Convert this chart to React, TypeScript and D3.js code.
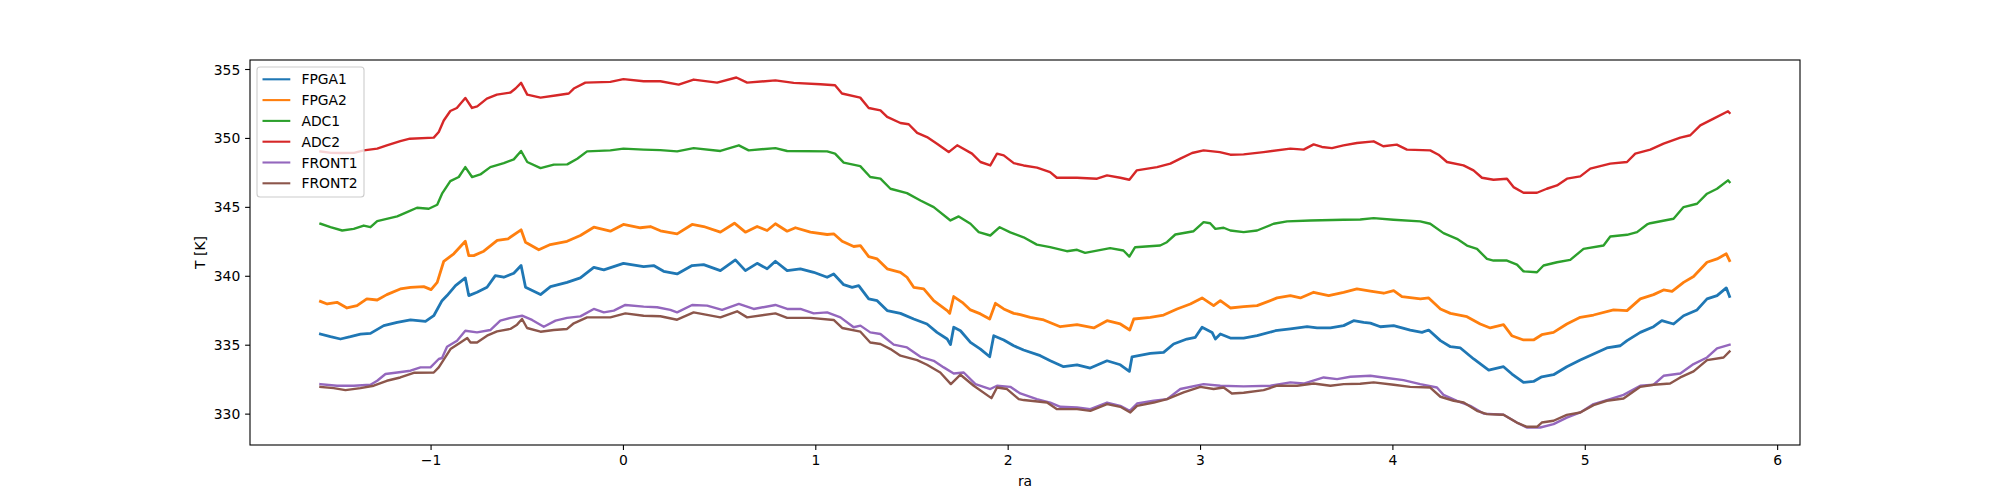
import React from "react";
import * as d3 from "d3";

type Pt = [number, number];

const FPGA1: Pt[] = [[-1.575,335.81],[-1.523,335.62],[-1.471,335.45],[-1.419,335.62],[-1.367,335.81],[-1.315,335.86],[-1.246,336.42],[-1.176,336.66],[-1.107,336.83],[-1.029,336.73],[-0.986,337.14],[-0.943,338.23],[-0.917,338.6],[-0.873,339.32],[-0.822,339.88],[-0.804,338.6],[-0.761,338.84],[-0.709,339.2],[-0.666,340.05],[-0.622,339.93],[-0.57,340.22],[-0.532,340.78],[-0.509,339.2],[-0.431,338.67],[-0.379,339.25],[-0.293,339.56],[-0.224,339.88],[-0.154,340.65],[-0.102,340.47],[0.0,340.94],[0.105,340.7],[0.157,340.78],[0.209,340.36],[0.279,340.17],[0.357,340.78],[0.417,340.85],[0.504,340.41],[0.582,341.19],[0.634,340.41],[0.695,340.94],[0.747,340.54],[0.79,341.09],[0.851,340.41],[0.92,340.54],[0.989,340.29],[1.059,339.93],[1.093,340.17],[1.145,339.39],[1.189,339.2],[1.223,339.32],[1.275,338.36],[1.319,338.23],[1.371,337.51],[1.44,337.31],[1.509,336.9],[1.578,336.54],[1.63,335.93],[1.683,335.45],[1.7,335.04],[1.717,336.3],[1.752,336.05],[1.804,335.2],[1.856,334.72],[1.904,334.16],[1.925,335.69],[1.977,335.38],[2.029,334.96],[2.08,334.65],[2.167,334.24],[2.219,333.87],[2.288,333.44],[2.358,333.58],[2.427,333.34],[2.514,333.87],[2.583,333.58],[2.63,333.1],[2.644,334.16],[2.739,334.4],[2.808,334.48],[2.86,335.09],[2.929,335.45],[2.973,335.57],[3.008,336.3],[3.06,335.93],[3.077,335.45],[3.103,335.81],[3.155,335.52],[3.224,335.52],[3.294,335.69],[3.389,336.05],[3.467,336.18],[3.554,336.34],[3.606,336.25],[3.675,336.25],[3.744,336.42],[3.796,336.78],[3.848,336.66],[3.883,336.6],[3.935,336.34],[4.004,336.42],[4.09,336.1],[4.151,335.93],[4.186,336.1],[4.247,335.33],[4.299,334.89],[4.351,334.8],[4.42,334.0],[4.498,333.2],[4.575,333.44],[4.619,332.91],[4.679,332.3],[4.731,332.37],[4.774,332.71],[4.835,332.86],[4.904,333.44],[4.974,333.92],[5.043,334.36],[5.112,334.8],[5.182,334.96],[5.217,335.33],[5.286,335.93],[5.355,336.34],[5.398,336.78],[5.459,336.54],[5.511,337.14],[5.581,337.56],[5.633,338.36],[5.685,338.6],[5.733,339.16],[5.75,338.53]];

const FPGA2: Pt[] = [[-1.575,338.18],[-1.54,337.99],[-1.489,338.11],[-1.437,337.7],[-1.385,337.87],[-1.334,338.36],[-1.28,338.28],[-1.23,338.67],[-1.16,339.08],[-1.107,339.2],[-1.038,339.25],[-1.0,339.03],[-0.968,339.56],[-0.934,341.09],[-0.882,341.63],[-0.822,342.54],[-0.804,341.5],[-0.778,341.5],[-0.726,341.82],[-0.656,342.6],[-0.6,342.72],[-0.532,343.37],[-0.509,342.47],[-0.44,341.92],[-0.38,342.3],[-0.293,342.54],[-0.224,342.96],[-0.154,343.56],[-0.068,343.27],[0.0,343.76],[0.088,343.52],[0.14,343.61],[0.192,343.3],[0.279,343.08],[0.357,343.76],[0.417,343.61],[0.504,343.2],[0.577,343.85],[0.634,343.2],[0.695,343.61],[0.747,343.32],[0.79,343.81],[0.851,343.27],[0.894,343.52],[0.972,343.2],[1.059,343.03],[1.093,343.08],[1.137,342.54],[1.197,342.16],[1.232,342.23],[1.275,341.43],[1.319,341.26],[1.371,340.54],[1.44,340.29],[1.474,339.93],[1.509,339.2],[1.561,339.08],[1.613,338.23],[1.683,337.51],[1.696,337.31],[1.717,338.53],[1.761,338.11],[1.804,337.56],[1.856,337.27],[1.904,336.9],[1.934,338.04],[1.977,337.63],[2.029,337.31],[2.063,337.22],[2.115,337.02],[2.185,336.83],[2.271,336.34],[2.358,336.49],[2.445,336.25],[2.514,336.78],[2.583,336.54],[2.632,336.1],[2.653,336.9],[2.739,337.02],[2.808,337.19],[2.878,337.63],[2.947,337.99],[3.008,338.43],[3.068,337.87],[3.103,338.23],[3.155,337.7],[3.224,337.8],[3.294,337.87],[3.398,338.43],[3.467,338.6],[3.519,338.43],[3.588,338.84],[3.666,338.6],[3.744,338.84],[3.813,339.08],[3.883,338.93],[3.952,338.77],[4.004,338.96],[4.047,338.53],[4.143,338.36],[4.186,338.43],[4.247,337.63],[4.299,337.31],[4.385,337.07],[4.454,336.54],[4.506,336.25],[4.575,336.49],[4.618,335.69],[4.679,335.38],[4.731,335.38],[4.774,335.76],[4.835,335.93],[4.904,336.54],[4.974,337.02],[5.043,337.19],[5.147,337.56],[5.217,337.51],[5.286,338.36],[5.355,338.67],[5.407,339.01],[5.451,338.91],[5.511,339.56],[5.563,339.98],[5.633,341.02],[5.685,341.26],[5.733,341.63],[5.75,341.14]];

const ADC1: Pt[] = [[-1.575,343.81],[-1.523,343.56],[-1.462,343.32],[-1.402,343.44],[-1.35,343.68],[-1.315,343.56],[-1.28,344.0],[-1.176,344.34],[-1.125,344.65],[-1.073,344.97],[-1.012,344.9],[-0.968,345.19],[-0.943,345.99],[-0.9,346.9],[-0.856,347.2],[-0.822,347.92],[-0.787,347.2],[-0.744,347.39],[-0.692,347.92],[-0.622,348.21],[-0.57,348.48],[-0.532,349.09],[-0.5,348.29],[-0.431,347.85],[-0.362,348.1],[-0.292,348.12],[-0.24,348.53],[-0.189,349.06],[-0.068,349.13],[0.0,349.26],[0.105,349.19],[0.192,349.15],[0.279,349.06],[0.365,349.3],[0.504,349.09],[0.6,349.5],[0.651,349.13],[0.79,349.3],[0.851,349.09],[1.059,349.06],[1.1,348.9],[1.145,348.24],[1.231,347.99],[1.283,347.2],[1.336,347.08],[1.388,346.35],[1.474,346.03],[1.544,345.5],[1.613,345.02],[1.7,344.05],[1.743,344.34],[1.804,343.81],[1.847,343.2],[1.907,342.96],[1.956,343.56],[2.011,343.18],[2.08,342.83],[2.149,342.3],[2.218,342.11],[2.305,341.82],[2.358,341.92],[2.4,341.7],[2.53,342.04],[2.599,341.87],[2.63,341.43],[2.66,342.11],[2.79,342.23],[2.825,342.47],[2.869,343.03],[2.964,343.27],[3.016,343.93],[3.05,343.85],[3.077,343.44],[3.12,343.52],[3.155,343.32],[3.224,343.2],[3.294,343.32],[3.38,343.81],[3.45,343.98],[3.571,344.05],[3.743,344.1],[3.83,344.12],[3.9,344.22],[4.003,344.1],[4.142,343.98],[4.194,343.81],[4.263,343.13],[4.333,342.72],[4.385,342.23],[4.437,341.99],[4.489,341.26],[4.523,341.14],[4.593,341.14],[4.645,340.85],[4.679,340.36],[4.749,340.29],[4.783,340.78],[4.853,341.02],[4.922,341.19],[4.991,341.99],[5.095,342.23],[5.13,342.89],[5.217,343.01],[5.269,343.2],[5.321,343.76],[5.338,343.85],[5.459,344.17],[5.511,345.02],[5.581,345.26],[5.633,345.99],[5.685,346.35],[5.742,346.96],[5.75,346.83]];

const ADC2: Pt[] = [[-1.575,349.06],[-1.52,348.95],[-1.47,348.94],[-1.4,348.95],[-1.35,349.13],[-1.28,349.26],[-1.23,349.5],[-1.16,349.81],[-1.11,349.98],[-0.986,350.06],[-0.96,350.47],[-0.934,351.3],[-0.9,351.99],[-0.866,352.21],[-0.822,352.94],[-0.787,352.21],[-0.76,352.33],[-0.71,352.89],[-0.658,353.18],[-0.587,353.33],[-0.561,353.62],[-0.532,354.03],[-0.5,353.18],[-0.431,352.96],[-0.345,353.13],[-0.284,353.26],[-0.258,353.62],[-0.198,354.05],[-0.068,354.1],[0.0,354.3],[0.105,354.15],[0.192,354.15],[0.287,353.9],[0.365,354.27],[0.487,354.05],[0.587,354.42],[0.643,354.05],[0.79,354.21],[0.885,354.03],[1.024,353.93],[1.1,353.86],[1.136,353.26],[1.231,352.96],[1.275,352.21],[1.336,352.04],[1.371,351.56],[1.44,351.12],[1.483,351.03],[1.527,350.4],[1.578,350.1],[1.63,349.62],[1.691,349.01],[1.735,349.5],[1.812,348.9],[1.856,348.29],[1.907,348.04],[1.942,348.9],[1.977,348.77],[2.029,348.21],[2.08,348.04],[2.15,347.88],[2.218,347.56],[2.253,347.15],[2.358,347.15],[2.462,347.08],[2.514,347.32],[2.583,347.15],[2.63,347.0],[2.668,347.68],[2.774,347.92],[2.843,348.17],[2.895,348.53],[2.956,348.94],[3.016,349.13],[3.1,349.01],[3.155,348.82],[3.224,348.84],[3.328,349.01],[3.467,349.26],[3.536,349.19],[3.588,349.57],[3.631,349.38],[3.683,349.3],[3.743,349.5],[3.813,349.67],[3.9,349.79],[3.95,349.43],[4.02,349.55],[4.073,349.19],[4.194,349.13],[4.237,348.82],[4.281,348.29],[4.367,348.04],[4.419,347.68],[4.463,347.15],[4.523,347.0],[4.593,347.08],[4.627,346.47],[4.679,346.06],[4.749,346.06],[4.8,346.35],[4.853,346.59],[4.905,347.08],[4.974,347.25],[5.026,347.81],[5.13,348.17],[5.217,348.29],[5.26,348.9],[5.338,349.19],[5.407,349.62],[5.494,350.06],[5.546,350.23],[5.598,350.95],[5.667,351.44],[5.742,351.97],[5.75,351.85]];

const FRONT1: Pt[] = [[-1.575,332.18],[-1.489,332.06],[-1.402,332.06],[-1.315,332.13],[-1.28,332.42],[-1.237,332.91],[-1.176,333.02],[-1.107,333.15],[-1.055,333.39],[-1.003,333.39],[-0.96,334.0],[-0.943,334.07],[-0.917,334.89],[-0.865,335.33],[-0.822,336.05],[-0.761,335.93],[-0.692,336.1],[-0.64,336.78],[-0.587,336.98],[-0.527,337.14],[-0.475,336.83],[-0.414,336.34],[-0.353,336.78],[-0.293,336.98],[-0.224,337.09],[-0.154,337.63],[-0.102,337.38],[-0.05,337.51],[0.01,337.92],[0.105,337.8],[0.175,337.75],[0.244,337.56],[0.279,337.38],[0.357,337.92],[0.435,337.87],[0.513,337.56],[0.6,337.99],[0.677,337.63],[0.79,337.92],[0.851,337.63],[0.92,337.63],[0.989,337.31],[1.059,337.38],[1.128,337.02],[1.197,336.3],[1.232,336.42],[1.283,335.93],[1.336,335.81],[1.405,335.04],[1.474,334.84],[1.544,334.16],[1.613,333.87],[1.665,333.39],[1.717,332.95],[1.769,333.02],[1.83,332.18],[1.907,331.82],[1.942,332.06],[2.011,331.98],[2.063,331.5],[2.149,331.09],[2.219,330.84],[2.271,330.53],[2.358,330.48],[2.427,330.36],[2.514,330.84],[2.583,330.6],[2.632,330.24],[2.67,330.77],[2.757,330.97],[2.826,331.09],[2.895,331.82],[3.016,332.18],[3.103,332.06],[3.224,332.01],[3.363,332.06],[3.467,332.3],[3.536,332.22],[3.64,332.66],[3.71,332.54],[3.779,332.71],[3.883,332.78],[3.969,332.62],[4.055,332.47],[4.142,332.18],[4.229,331.93],[4.263,331.4],[4.333,330.97],[4.402,330.6],[4.471,330.04],[4.575,329.95],[4.644,329.39],[4.696,329.03],[4.766,329.03],[4.835,329.27],[4.904,329.75],[4.974,330.12],[5.043,330.73],[5.112,331.02],[5.199,331.4],[5.286,332.06],[5.355,332.13],[5.407,332.78],[5.494,332.95],[5.563,333.63],[5.633,334.11],[5.685,334.77],[5.75,335.04]];

const FRONT2: Pt[] = [[-1.575,331.98],[-1.506,331.89],[-1.445,331.74],[-1.367,331.89],[-1.298,332.06],[-1.23,332.42],[-1.16,332.66],[-1.09,333.0],[-0.986,333.02],[-0.96,333.39],[-0.899,334.72],[-0.847,335.2],[-0.812,335.52],[-0.795,335.2],[-0.761,335.2],[-0.709,335.69],[-0.657,336.0],[-0.588,336.18],[-0.553,336.49],[-0.527,336.9],[-0.501,336.25],[-0.431,335.98],[-0.362,336.1],[-0.293,336.18],[-0.258,336.59],[-0.189,337.02],[-0.068,337.02],[0.01,337.31],[0.105,337.14],[0.192,337.1],[0.279,336.85],[0.365,337.38],[0.504,337.02],[0.591,337.46],[0.643,337.02],[0.79,337.31],[0.851,336.98],[0.972,336.98],[1.093,336.83],[1.137,336.25],[1.232,335.98],[1.283,335.2],[1.336,335.09],[1.388,334.72],[1.44,334.24],[1.527,333.92],[1.578,333.58],[1.647,333.02],[1.702,332.18],[1.752,332.86],[1.821,332.06],[1.913,331.16],[1.942,331.93],[1.994,331.82],[2.055,331.09],[2.08,331.02],[2.202,330.84],[2.254,330.36],[2.358,330.36],[2.427,330.24],[2.514,330.73],[2.583,330.53],[2.635,330.12],[2.67,330.6],[2.757,330.84],[2.826,331.09],[2.912,331.57],[2.999,331.98],[3.068,331.82],[3.12,331.93],[3.163,331.5],[3.224,331.55],[3.328,331.74],[3.398,332.06],[3.502,332.06],[3.588,332.22],[3.675,332.06],[3.744,332.18],[3.83,332.2],[3.9,332.3],[4.004,332.13],[4.09,331.98],[4.194,331.93],[4.247,331.26],[4.316,330.97],[4.368,330.84],[4.437,330.24],[4.489,330.0],[4.575,329.95],[4.644,329.39],[4.696,329.08],[4.749,329.08],[4.774,329.39],[4.835,329.52],[4.904,329.95],[4.974,330.12],[5.043,330.65],[5.112,330.97],[5.199,331.13],[5.286,331.98],[5.355,332.13],[5.441,332.22],[5.494,332.66],[5.563,333.1],[5.633,333.92],[5.719,334.11],[5.75,334.55]];

const SERIES_NAMES = ["FPGA1", "FPGA2", "ADC1", "ADC2", "FRONT1", "FRONT2"];
const SERIES_DATA = [FPGA1, FPGA2, ADC1, ADC2, FRONT1, FRONT2];
const COLORS = ["#1f77b4", "#ff7f0e", "#2ca02c", "#d62728", "#9467bd", "#8c564b"];
const X_TICKS = [-1, 0, 1, 2, 3, 4, 5, 6];
const Y_TICKS = [330, 335, 340, 345, 350, 355];
const X_LABEL = "ra";
const Y_LABEL = "T [K]";

const W = 2000, H = 500;
const M = { left: 250, right: 1800, top: 60, bottom: 445 };
const FONT = "DejaVu Sans, sans-serif";
const FS = 13.9;

export default function App() {
  const all = SERIES_DATA.flat();
  const [x0, x1] = d3.extent(all, (d) => d[0]) as [number, number];
  const [y0, y1] = d3.extent(all, (d) => d[1]) as [number, number];
  const xp = (x1 - x0) * 0.05, yp = (y1 - y0) * 0.05;
  const x = d3.scaleLinear().domain([x0 - xp, x1 + xp]).range([M.left, M.right]);
  const y = d3.scaleLinear().domain([y0 - yp, y1 + yp]).range([M.bottom, M.top]);
  const line = d3.line<Pt>().x((d) => x(d[0])).y((d) => y(d[1]));

  const lg = { x: 257, y: 67, w: 107, h: 130, row: 20.8 };

  return (
    <svg width={W} height={H} style={{ position: "absolute", left: 0, top: 0, background: "#fff" }} fontFamily={FONT}>
      <rect x={0} y={0} width={W} height={H} fill="#fff" />
      <defs>
        <clipPath id="plotclip">
          <rect x={M.left} y={M.top} width={M.right - M.left} height={M.bottom - M.top} />
        </clipPath>
      </defs>
      <g clipPath="url(#plotclip)">
        {SERIES_DATA.map((s, i) => (
          <path key={SERIES_NAMES[i]} d={line(s) || ""} fill="none" stroke={COLORS[i]}
            strokeWidth={i < 2 ? 2.8 : 2.4} strokeLinejoin="round" strokeLinecap="square" />
        ))}
      </g>
      <rect x={M.left} y={M.top} width={M.right - M.left} height={M.bottom - M.top} fill="none" stroke="#000" strokeWidth={1.1} />
      {X_TICKS.map((t) => (
        <g key={"xt" + t}>
          <line x1={x(t)} x2={x(t)} y1={M.bottom} y2={M.bottom + 4.9} stroke="#000" strokeWidth={1.1} />
          <text x={x(t)} y={M.bottom + 9.7} dy="0.76em" textAnchor="middle" fontSize={FS} fill="#000">
            {t < 0 ? "\u2212" + Math.abs(t) : String(t)}
          </text>
        </g>
      ))}
      {Y_TICKS.map((t) => (
        <g key={"yt" + t}>
          <line x1={M.left - 4.9} x2={M.left} y1={y(t)} y2={y(t)} stroke="#000" strokeWidth={1.1} />
          <text x={M.left - 9.7} y={y(t)} dy="0.36em" textAnchor="end" fontSize={FS} fill="#000">{t}</text>
        </g>
      ))}
      <text x={(M.left + M.right) / 2} y={481} dy="0.36em" textAnchor="middle" fontSize={FS} fill="#000">{X_LABEL}</text>
      <text transform={`translate(200,${(M.top + M.bottom) / 2}) rotate(-90)`} dy="0.36em" textAnchor="middle" fontSize={FS} fill="#000">{Y_LABEL}</text>
      <g>
        <rect x={lg.x} y={lg.y} width={lg.w} height={lg.h} rx={3} ry={3} fill="#fff" fillOpacity={0.8} stroke="#cccccc" strokeWidth={1.1} />
        {SERIES_NAMES.map((n, i) => (
          <g key={"lg" + n}>
            <line x1={lg.x + 5.5} x2={lg.x + 33.3} y1={lg.y + 12.3 + i * lg.row} y2={lg.y + 12.3 + i * lg.row} stroke={COLORS[i]} strokeWidth={2.1} />
            <text x={lg.x + 44.4} y={lg.y + 12.3 + i * lg.row} dy="0.36em" fontSize={FS} fill="#000">{n}</text>
          </g>
        ))}
      </g>
    </svg>
  );
}
